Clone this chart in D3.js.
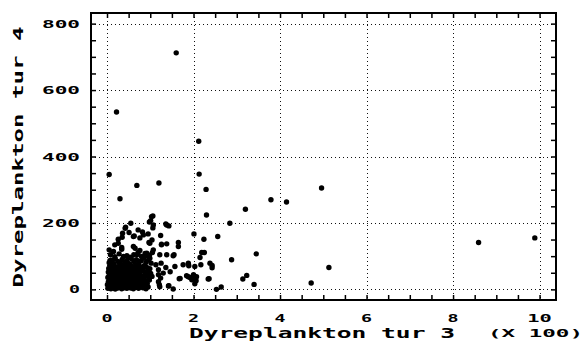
<!DOCTYPE html>
<html>
<head>
<meta charset="utf-8">
<script src="https://cdn.jsdelivr.net/npm/d3@7"></script>
<style>
  html, body { margin: 0; padding: 0; background: #fff; }
  svg { display: block; }
  text { font-family: "DejaVu Sans Mono", "Liberation Mono", monospace; font-weight: bold; fill: #000; }
</style>
</head>
<body>
<svg id="chart" width="587" height="352"></svg>
<script>
// Tick positions (raw units) and the labels printed under / beside them
const xMajorTicks = [0, 200, 400, 600, 800, 1000];
const xTickLabels = ["0", "2", "4", "6", "8", "10"];
const yMajorTicks = [0, 200, 400, 600, 800];
const yTickLabels = ["0", "200", "400", "600", "800"];
const xMinorTicks = d3.range(0, 1001, 50);
const yMinorTicks = d3.range(0, 801, 50);

const xTitle = "Dyreplankton tur 3";
const yTitle = "Dyreplankton tur 4";
const xMultiplier = "(X 100)";

// Paired observations: tur 3 (x) and tur 4 (y)
const tur3 = [
  // sparse points
  160, 22, 212, 5, 30, 69, 120, 213, 229, 230, 320, 379, 415, 496, 513, 472, 859, 989,
  284, 256, 224, 201, 288, 345, 243, 243, 225, 215, 217, 236, 253, 264, 314, 323, 340,
  202, 206, 192, 184, 189, 176, 165, 165, 153, 157, 167, 143, 121, 124, 136, 126, 124,
  136, 143, 106, 101, 98, 55, 43, 51, 63, 72, 82, 95, 106, 104, 97, 76, 26, 35, 18, 5,
  34, 65, 76, 62, 38, 92, 105, 99,
  138, 126, 138, 122, 138, 155, 113, 125, 188, 203, 219, 238, 119, 119, 130, 146, 169,
  188, 196, 200, 207, 234, 122, 142, 153, 203, 119,
  103, 107, 42, 36, 61, 84, 99, 26, 34, 15, 61, 72, 92, 107,
  // dense group near the origin
  2, 6, 9, 13, 16, 19, 22, 25, 28, 31, 34, 37, 40, 43, 46, 49, 52, 55, 58, 61, 64, 67, 70, 73, 76, 79, 83, 87, 90, 95,
  3, 7, 11, 14, 18, 21, 24, 27, 30, 33, 36, 39, 42, 45, 48, 51, 54, 57, 60, 63, 66, 69, 72, 75, 80, 84, 88, 93, 98,
  2, 5, 9, 12, 15, 19, 22, 26, 29, 32, 35, 38, 41, 44, 47, 50, 53, 56, 59, 62, 65, 68, 71, 74, 77, 82, 86, 91, 96, 104,
  3, 6, 10, 13, 17, 20, 23, 27, 31, 34, 37, 40, 44, 47, 51, 54, 57, 60, 64, 67, 70, 74, 78, 83, 89, 94, 101,
  4, 8, 12, 16, 20, 24, 28, 32, 36, 40, 45, 49, 53, 58, 62, 67, 72, 77, 81, 86, 92, 99,
  5, 10, 15, 19, 25, 30, 35, 41, 46, 52, 56, 62, 68, 73, 79, 85, 90, 96, 102,
  8, 18, 28, 46, 54, 70, 80, 88, 98,
  1, 11, 21, 33, 44, 57, 66, 78, 14, 24, 38, 50, 63, 75, 7, 17, 29, 43, 55, 69
];
const tur4 = [
  712, 534, 446, 346, 273, 313, 320, 347, 301, 224, 241, 270, 263, 305, 66, 19, 141, 155,
  199, 159, 151, 167, 89, 107, 72, 65, 111, 96, 74, 32, 0, 7, 31, 42, 15,
  35, 26, 36, 41, 71, 74, 141, 129, 101, 69, 32, 11, 14, 34, 66, 134, 162,
  197, 191, 221, 207, 203, 199, 187, 171, 161, 179, 173, 167, 185, 149, 141, 155, 151, 157, 134, 119,
  126, 124, 117, 104, 99, 101, 111, 94,
  194, 136, 137, 104, 104, 104, 74, 79, 79, 69, 111, 79, 59, 44, 49, 53, 33,
  38, 29, 44, 38, 31, 8, 10, 1, 17, 23,
  219, 194, 184, 169, 159, 164, 139, 139, 121, 114, 129, 111, 109, 119,
  3, 8, 2, 11, 5, 1, 9, 4, 13, 6, 2, 10, 5, 14, 3, 8, 12, 4, 9, 2, 13, 6, 10, 3, 8, 14, 5, 11, 2, 7,
  22, 17, 27, 19, 25, 16, 29, 21, 18, 26, 20, 28, 17, 24, 19, 27, 22, 16, 25, 20, 29, 18, 24, 21, 27, 19, 25, 18, 28,
  36, 41, 33, 44, 38, 31, 42, 35, 40, 32, 44, 37, 31, 40, 34, 43, 37, 32, 41, 35, 44, 38, 31, 42, 36, 40, 33, 43, 37, 39,
  52, 47, 57, 49, 55, 46, 58, 50, 54, 47, 59, 51, 56, 48, 53, 58, 46, 52, 57, 49, 55, 47, 53, 58, 50, 55, 48,
  63, 70, 65, 73, 61, 68, 64, 72, 62, 69, 66, 74, 63, 70, 65, 72, 61, 68, 64, 71, 66, 62,
  80, 88, 78, 92, 84, 79, 90, 82, 87, 77, 93, 84, 89, 79, 86, 94, 81, 88, 79,
  104, 98, 107, 101, 97, 105, 99, 108, 103,
  14, 30, 47, 12, 23, 35, 6, 18, 58, 33, 71, 41, 26, 50, 87, 62, 10, 75, 45, 20
];

const svg = d3.select("#chart");

const frame = { left: 91, top: 13, right: 556, bottom: 300 };

const x = d3.scaleLinear().domain([-37, 1038]).range([frame.left, frame.right]);
const y = d3.scaleLinear().domain([-32, 832]).range([frame.bottom, frame.top]);

// dotted grid at the major ticks
const grid = svg.append("g")
  .attr("stroke", "#111")
  .attr("stroke-width", 1)
  .attr("stroke-dasharray", "1,3")
  .attr("shape-rendering", "crispEdges");
grid.selectAll("line.vx").data(xMajorTicks).join("line")
  .attr("x1", d => Math.round(x(d)) + 0.5).attr("x2", d => Math.round(x(d)) + 0.5)
  .attr("y1", frame.top).attr("y2", frame.bottom);
grid.selectAll("line.hy").data(yMajorTicks).join("line")
  .attr("y1", d => Math.round(y(d)) + 0.5).attr("y2", d => Math.round(y(d)) + 0.5)
  .attr("x1", frame.left).attr("x2", frame.right);

// inward tick marks on all four sides
const tickLen = 5;
const axisStyle = g => g.call(s => s.select(".domain").remove())
  .selectAll(".tick line").attr("stroke", "#000").attr("stroke-width", 1.5);

svg.append("g").attr("transform", `translate(0,${frame.bottom})`)
  .call(d3.axisBottom(x).tickValues(xMinorTicks).tickSize(-tickLen).tickFormat(""))
  .call(axisStyle);
svg.append("g").attr("transform", `translate(0,${frame.top})`)
  .call(d3.axisTop(x).tickValues(xMinorTicks).tickSize(-tickLen).tickFormat(""))
  .call(axisStyle);
svg.append("g").attr("transform", `translate(${frame.left},0)`)
  .call(d3.axisLeft(y).tickValues(yMinorTicks).tickSize(-tickLen).tickFormat(""))
  .call(axisStyle);
svg.append("g").attr("transform", `translate(${frame.right},0)`)
  .call(d3.axisRight(y).tickValues(yMinorTicks).tickSize(-tickLen).tickFormat(""))
  .call(axisStyle);

// frame
svg.append("rect")
  .attr("x", frame.left).attr("y", frame.top)
  .attr("width", frame.right - frame.left).attr("height", frame.bottom - frame.top)
  .attr("fill", "none").attr("stroke", "#000").attr("stroke-width", 2);

// scatter points
const points = tur3.map((v, i) => ({ a: v, b: tur4[i] }));
svg.append("g").selectAll("circle").data(points).join("circle")
  .attr("cx", d => x(d.a)).attr("cy", d => y(d.b))
  .attr("r", 2.7).attr("fill", "#000");

// tick labels: wide, blocky digits
const labelPitch = 13.5;
const wide = n => n * labelPitch - 2.5;

svg.append("g").selectAll("text").data(xMajorTicks).join("text")
  .attr("x", d => x(d)).attr("y", 322)
  .attr("text-anchor", "middle")
  .attr("font-size", 11)
  .attr("textLength", (d, i) => wide(xTickLabels[i].length))
  .attr("lengthAdjust", "spacingAndGlyphs")
  .text((d, i) => xTickLabels[i]);

svg.append("g").selectAll("text").data(yMajorTicks).join("text")
  .attr("x", 80).attr("y", d => y(d) + 4)
  .attr("text-anchor", "end")
  .attr("font-size", 11)
  .attr("textLength", (d, i) => wide(yTickLabels[i].length))
  .attr("lengthAdjust", "spacingAndGlyphs")
  .text((d, i) => yTickLabels[i]);

svg.append("text")
  .attr("x", 583).attr("y", 337)
  .attr("text-anchor", "end")
  .attr("font-size", 11)
  .attr("textLength", 95)
  .attr("lengthAdjust", "spacingAndGlyphs")
  .text(xMultiplier);

// axis titles
svg.append("text")
  .attr("x", 322).attr("y", 338)
  .attr("text-anchor", "middle")
  .attr("font-size", 13.5)
  .attr("textLength", 266)
  .attr("lengthAdjust", "spacingAndGlyphs")
  .text(xTitle);

svg.append("text")
  .attr("transform", "translate(23,157) rotate(-90)")
  .attr("text-anchor", "middle")
  .attr("font-size", 13.5)
  .attr("textLength", 261)
  .attr("lengthAdjust", "spacingAndGlyphs")
  .text(yTitle);
</script>
</body>
</html>
